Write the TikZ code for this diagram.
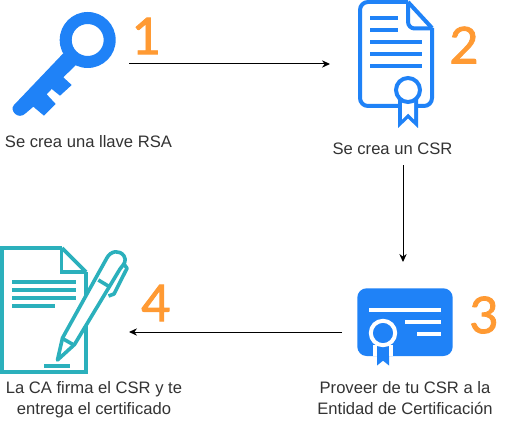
\documentclass[tikz,border=0pt]{standalone}
\usepackage{fontspec}
\setmainfont{Liberation Sans}
\newfontfamily\numfont[RawFeature={embolden=1.6}]{Lato}
\usetikzlibrary{arrows.meta}
\definecolor{keyblue}{HTML}{1F82F7}
\definecolor{docteal}{HTML}{2BB0BC}
\definecolor{numorange}{HTML}{FF9A33}
\definecolor{txtgray}{HTML}{333333}
\tikzset{
  lbl/.style={font=\fontsize{12.45pt}{15.8pt}\selectfont,text=txtgray,align=center,inner sep=0pt},
  num/.style={font=\numfont\fontsize{38pt}{38pt}\selectfont,text=numorange,inner sep=0pt},
  conn/.style={draw=black,line width=0.75pt,-{Stealth[length=6pt,width=5.5pt]}},
  bstroke/.style={draw=keyblue,line width=3pt},
  tstroke/.style={draw=docteal,line width=2.7pt},
}
\begin{document}
\begin{tikzpicture}[x=0.75pt,y=-0.75pt]
\useasboundingbox (0,0) rectangle (517,442);
\fill[white] (0,0) rectangle (517,442);
% key
\fill[keyblue,even odd rule] (87.7,40) circle (28) (87.7,40) circle (16);
\fill[keyblue] (63.3,53.3) -- (14,105) .. controls (9,110) and (18,121) .. (26,113) -- (33.3,106.7) -- (44,115.7) -- (55.7,104) -- (46.7,94.3) -- (51.7,89) -- (60,95.7) -- (71.7,85) -- (63.3,77.3) -- (76,65) -- cycle;
% document 2
\draw[bstroke,rounded corners=6pt] (408,2) -- (360,2) -- (360,106) -- (432,106) -- (432,28);
\draw[bstroke] (432,28) -- (408,2);
\draw[bstroke,rounded corners=5pt] (408,2) -- (408,28.5) -- (432,28.5);
\foreach \yy/\xa/\xb in {18/370/398,30/370/398,42/370/422,54/370/422,66/370/422}
  \draw[bstroke] (\xa,\yy) -- (\xb,\yy);
\path[fill=keyblue] (398,100) -- (398,128) -- (408,118.5) -- (418,128) -- (418,100) -- cycle;
\path[fill=white] (402,100) -- (402,119.5) -- (408,113.5) -- (414,119.5) -- (414,100) -- cycle;
\fill[white] (408,90) circle (12);
\draw[bstroke] (408,90) circle (12);
% certificate 3
\fill[keyblue,rounded corners=7pt] (357.3,288.3) rectangle (452.7,356);
\fill[keyblue] (377,350) -- (377,365.5) -- (383,360.7) -- (389,365.5) -- (389,350) -- cycle;
\draw[white,line width=3pt] (369,310) -- (441,310) (405,321.7) -- (441,321.7) (417,333.7) -- (441,333.7);
\draw[white,line width=3pt] (375,345) -- (375,356) (390.7,345) -- (390.7,356);
\draw[white,line width=3pt] (383,333) circle (12.2);
% document 4
\draw[tstroke] (62,248) -- (2,248) -- (2,372) -- (86,372) -- (86,272);
\draw[tstroke] (62,248) -- (86,272);
\draw[tstroke] (61.5,248) -- (61.5,272) -- (86,272);
\foreach \yy/\xa/\xb in {282/12/76,290/12/76,298/12/76,306/12/55,365.7/44/70}
  \draw[draw=docteal,line width=2.8pt] (\xa,\yy) -- (\xb,\yy);
% pen
\draw[tstroke,fill=white,line join=round] (57.5,360) -- (62.5,338) -- (106.7,258.3) .. controls (111,250) and (120,250) .. (124,256) .. controls (127,261) and (124,264) .. (120,269) -- (74.5,344.5) -- cycle;
\draw[tstroke] (63.3,339) -- (74,345);
\draw[tstroke] (98.3,280) -- (110,287);
\draw[tstroke,line join=round] (124,264) -- (127,268.3) -- (114,294) -- (108.5,296);
% numbers
\node[num] (n1) at (146.5,36) {1};
\node[num] (n2) at (464,45) {2};
\node[num] (n3) at (484,315) {3};
\node[num] (n4) at (156,303) {4};
% labels
\node[lbl] (t1) at (88.5,141.5) {Se crea una llave RSA};
\node[lbl] (t2) at (392.5,148.5) {Se crea un CSR};
\node[lbl] (t3) at (405,398.5) {Proveer de tu CSR a la\\Entidad de Certificación};
\node[lbl] (t4) at (94,399.5) {La CA firma el CSR y te\\entrega el certificado};
% connectors
\coordinate (a1s) at (129,64);
\coordinate (a1e) at (330,64);
\coordinate (a2s) at (403,165);
\coordinate (a2e) at (403,262);
\coordinate (a3s) at (342,332);
\coordinate (a3e) at (129,332);
\draw[conn] (a1s) -- (a1e);
\draw[conn] (a2s) -- (a2e);
\draw[conn] (a3s) -- (a3e);
\end{tikzpicture}
\end{document}
